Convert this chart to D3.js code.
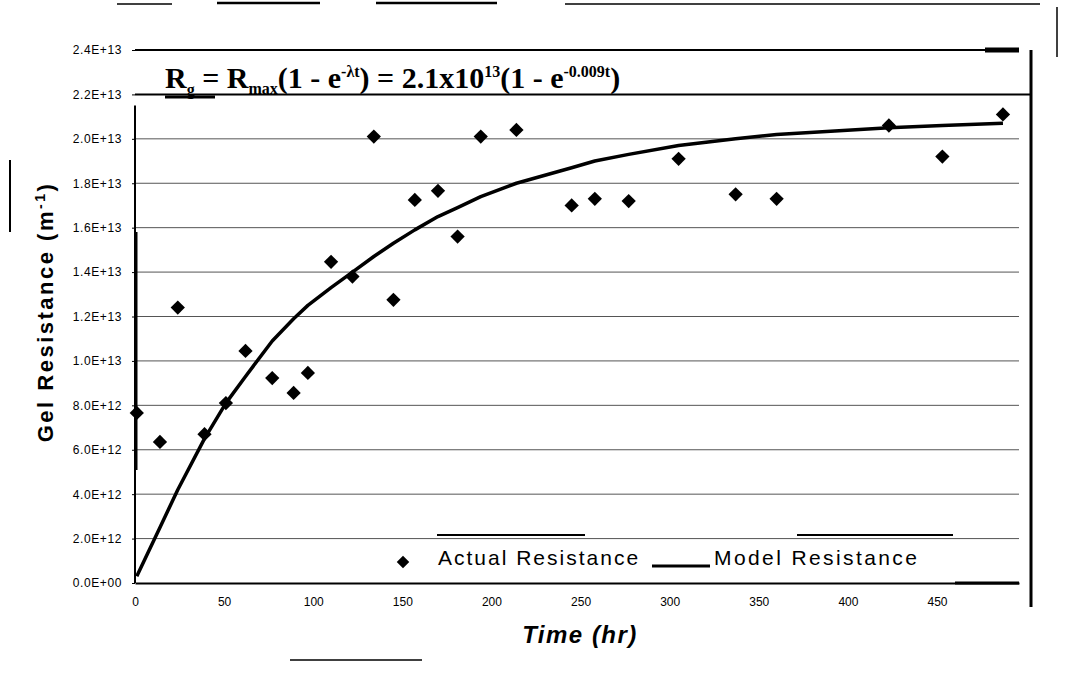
<!DOCTYPE html>
<html>
<head>
<meta charset="utf-8">
<script src="https://cdnjs.cloudflare.com/ajax/libs/d3/7.8.5/d3.min.js"></script>
<style>
  body { margin: 0; background: #fff; }
  svg { display: block; }
</style>
</head>
<body>
<div id="chart"></div>
<script>
// data
const hours = [1, 14, 24, 39, 51, 62, 77, 89, 97, 110, 122, 134, 145, 157, 170, 181, 194, 214,
  245, 258, 277, 305, 337, 360, 423, 453, 487];
const actual = [7.66e12, 6.35e12, 1.24e13, 6.7e12, 8.1e12, 1.045e13, 9.23e12, 8.56e12, 9.46e12,
  1.446e13, 1.38e13, 2.01e13, 1.275e13, 1.725e13, 1.766e13, 1.56e13, 2.01e13, 2.04e13,
  1.70e13, 1.73e13, 1.72e13, 1.91e13, 1.75e13, 1.73e13, 2.06e13, 1.92e13, 2.11e13];
const model = [0.3e12, 2.5e12, 4.2e12, 6.5e12, 8.1e12, 9.3e12, 1.09e13, 1.19e13, 1.25e13,
  1.33e13, 1.40e13, 1.47e13, 1.53e13, 1.59e13, 1.65e13, 1.69e13, 1.74e13, 1.80e13,
  1.87e13, 1.90e13, 1.93e13, 1.97e13, 2.00e13, 2.02e13, 2.05e13, 2.06e13, 2.07e13];
const yTicks = [0, 2e12, 4e12, 6e12, 8e12, 1e13, 1.2e13, 1.4e13, 1.6e13, 1.8e13, 2e13, 2.2e13, 2.4e13];
const xTicks = [0, 50, 100, 150, 200, 250, 300, 350, 400, 450];

const W = 1067, H = 673;
const svg = d3.select("#chart").append("svg")
  .attr("width", W).attr("height", H)
  .style("font-family", "Arial, 'Liberation Sans', sans-serif");

const x = d3.scaleLinear().domain([0, 496]).range([135, 1019]);
const y = d3.scaleLinear().domain([0, 2.4e13]).range([583, 50]);

function sci(v) {
  if (v === 0) return "0.0E+00";
  const e = Math.floor(Math.log10(v));
  const m = (v / Math.pow(10, e)).toFixed(1);
  return m + "E+" + String(e).padStart(2, "0");
}

// grid lines
svg.append("g").selectAll("line")
  .data(yTicks.slice(1))
  .enter().append("line")
  .attr("x1", x(0))
  .attr("x2", d => d === 2.2e13 ? 1031 : x(496))
  .attr("y1", d => y(d)).attr("y2", d => y(d))
  .attr("stroke", d => d >= 2.2e13 ? "#000" : "#555")
  .attr("stroke-width", d => d >= 2.2e13 ? 2 : 1);

// y axis
const yAxis = svg.append("g")
  .attr("transform", "translate(" + x(0) + ",0)")
  .call(d3.axisLeft(y).tickValues(yTicks).tickFormat(sci).tickSize(3).tickPadding(10));
yAxis.select(".domain").attr("stroke-width", 2).attr("d", "M0," + y(2.15e13) + "V" + y(0));
yAxis.selectAll("text").style("font-size", "12px").style("letter-spacing", "0.6px").attr("fill", "#000");

// x axis
const xAxis = svg.append("g")
  .attr("transform", "translate(0," + y(0) + ")")
  .call(d3.axisBottom(x).tickValues(xTicks).tickSize(0).tickPadding(14));
xAxis.select(".domain").attr("stroke-width", 2);
xAxis.selectAll("text").style("font-size", "12px").attr("fill", "#000");

// model line
const line = d3.line().x((d, i) => x(hours[i])).y(d => y(d));
svg.append("path")
  .datum(model)
  .attr("d", line)
  .attr("fill", "none")
  .attr("stroke", "#000")
  .attr("stroke-width", 3.5)
  .attr("stroke-linejoin", "round");

// actual points
const diamond = d3.symbol().type(d3.symbolDiamond2).size(130);
svg.append("g").selectAll("path")
  .data(actual)
  .enter().append("path")
  .attr("d", diamond)
  .attr("transform", (d, i) => "translate(" + x(hours[i]) + "," + y(d) + ")")
  .attr("fill", "#000");

// scan-like frame pieces
const frame = svg.append("g").attr("stroke", "#000").attr("fill", "none");
function seg(x1, y1, x2, y2, w) {
  frame.append("line").attr("x1", x1).attr("y1", y1).attr("x2", x2).attr("y2", y2).attr("stroke-width", w);
}
seg(1031, 50, 1031, 607, 3);
seg(985, y(2.4e13), 1019, y(2.4e13), 5);
seg(136, 232, 136, 470, 3);
seg(10, 160, 10, 232, 2);
seg(117, 4, 172, 4, 1.5);
seg(217, 3, 320, 3, 2.5);
seg(376, 3, 497, 3, 2.5);
seg(565, 4, 1040, 4, 1.5);
seg(1057, 7, 1057, 57, 1.5);
seg(290, 660, 422, 660, 1.5);
seg(437, 535, 585, 535, 2);
seg(797, 535, 953, 535, 2);
seg(955, y(0), 1019, y(0), 3);
seg(165, 97, 215, 97, 3);

// equation
const eq = svg.append("text")
  .attr("x", 165).attr("y", 88)
  .style("font-family", "'Liberation Serif', 'Times New Roman', serif")
  .style("font-weight", "bold")
  .style("font-size", "30px");
const sub = 16, sup = 16;
eq.append("tspan").text("R");
eq.append("tspan").attr("dy", 7).style("font-size", sub + "px").text("g");
eq.append("tspan").attr("dy", -7).text(" = R");
eq.append("tspan").attr("dy", 6).style("font-size", sub + "px").text("max");
eq.append("tspan").attr("dy", -6).text("(1 - e");
eq.append("tspan").attr("dy", -11).style("font-size", sup + "px").text("-λt");
eq.append("tspan").attr("dy", 11).text(") = 2.1x10");
eq.append("tspan").attr("dy", -11).style("font-size", sup + "px").text("13");
eq.append("tspan").attr("dy", 11).text("(1 - e");
eq.append("tspan").attr("dy", -11).style("font-size", sup + "px").text("-0.009t");
eq.append("tspan").attr("dy", 11).text(")");

// legend
svg.append("path")
  .attr("d", d3.symbol().type(d3.symbolDiamond2).size(100))
  .attr("transform", "translate(403,562)")
  .attr("fill", "#000");
svg.append("text").attr("x", 438).attr("y", 565)
  .style("font-size", "21px").style("letter-spacing", "2px").text("Actual Resistance");
svg.append("line").attr("x1", 652).attr("x2", 710).attr("y1", 566).attr("y2", 566)
  .attr("stroke", "#000").attr("stroke-width", 3);
svg.append("text").attr("x", 714).attr("y", 565)
  .style("font-size", "21px").style("letter-spacing", "2.4px").text("Model Resistance");

// axis titles
svg.append("text")
  .attr("x", 580).attr("y", 643)
  .attr("text-anchor", "middle")
  .style("font-size", "24px").style("font-weight", "bold").style("font-style", "italic")
  .style("letter-spacing", "1.5px")
  .text("Time (hr)");

const yt = svg.append("text")
  .attr("transform", "translate(53,312) rotate(-90)")
  .attr("text-anchor", "middle")
  .style("font-size", "22px").style("font-weight", "bold").style("letter-spacing", "2.5px");
yt.append("tspan").text("Gel Resistance (m");
yt.append("tspan").attr("dy", -8).style("font-size", "14px").text("-1");
yt.append("tspan").attr("dy", 8).text(")");
</script>
</body>
</html>
